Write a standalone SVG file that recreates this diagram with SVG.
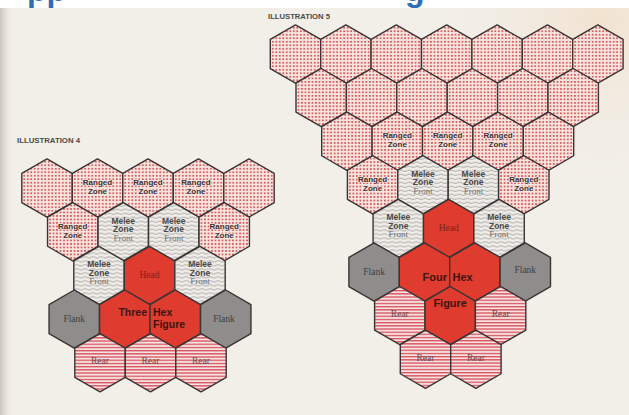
<svg xmlns="http://www.w3.org/2000/svg" xmlns:xlink="http://www.w3.org/1999/xlink" width="629" height="415" viewBox="0 0 629 415">
<style>
.hx{stroke:#3a3434;stroke-width:1.4;stroke-linejoin:round}
.dot{fill:url(#dots)}
.wav{fill:url(#wave)}
.str{fill:url(#stripes)}
.red{fill:#df3b2e}
.gry{fill:#8f8d8c}
text{font-family:"Liberation Sans",Arial,sans-serif;text-anchor:middle}
.rz{font-weight:bold;font-size:8px;fill:#3e2e2e;stroke:#f6e4df;stroke-width:1.3;paint-order:stroke;stroke-linejoin:round}
.mz{font-weight:bold;font-size:8.5px;fill:#4a4848}
.fr{font-family:"Liberation Serif","Times New Roman",serif;font-size:9px;fill:#707070}
.sf{font-family:"Liberation Serif","Times New Roman",serif;font-size:9.5px}
.hd{fill:#7b2418}
.fl{fill:#3e3e3e}
.rr{fill:#6a4a4a}
.big{font-weight:bold;fill:#3c1510}
.ttl{font-weight:bold;font-size:7.5px;fill:#4a4a4a;text-anchor:start}
.blue{font-weight:bold;font-size:32px;fill:#2f6db5;text-anchor:start}
</style>
<defs>
<polygon id="hex" points="0,-29.1 25.2,-14.55 25.2,14.55 0,29.1 -25.2,14.55 -25.2,-14.55"/>
<pattern id="dots" width="3.5" height="3.5" patternUnits="userSpaceOnUse">
<rect width="3.5" height="3.5" fill="#f6e4df"/>
<circle cx="1.75" cy="1.75" r="0.95" fill="#d63b3b"/>
</pattern>
<pattern id="wave" width="8" height="4" patternUnits="userSpaceOnUse">
<rect width="8" height="4" fill="#f0ede8"/>
<path d="M0 2 Q2 0.6 4 2 T8 2" fill="none" stroke="#8f8f8f" stroke-width="0.7"/>
</pattern>
<pattern id="stripes" width="6" height="3.2" patternUnits="userSpaceOnUse">
<rect width="6" height="3.2" fill="#f5e3e3"/>
<rect width="6" height="1.3" fill="#d9505a"/>
</pattern>
<linearGradient id="leftShade" x1="0" y1="0" x2="1" y2="0">
<stop offset="0" stop-color="#c9c5be"/>
<stop offset="1" stop-color="#f1eee7" stop-opacity="0"/>
</linearGradient>
<radialGradient id="warm" cx="600" cy="20" r="170" gradientUnits="userSpaceOnUse">
<stop offset="0" stop-color="#f2e2cf"/>
<stop offset="1" stop-color="#f1eee7" stop-opacity="0"/>
</radialGradient>
</defs>

<g id="background">
<rect width="629" height="415" fill="#ffffff"/>
<rect y="8" width="629" height="407" fill="#f2efe8"/>
<rect y="8" width="629" height="407" fill="url(#warm)"/>
<rect y="8" width="14" height="407" fill="url(#leftShade)"/>
<text class="blue" x="27" y="0.5">pp</text>
<text class="blue" x="405" y="0.5">g</text>
</g>

<g id="connectors"/>

<g id="illustration4">
<text class="ttl" x="17" y="143" textLength="63" lengthAdjust="spacingAndGlyphs">ILLUSTRATION 4</text>
<g id="i4-r0-0"><use href="#hex" class="hx dot" x="47" y="188"/></g>
<g id="i4-r0-1"><use href="#hex" class="hx dot" x="97.5" y="188"/><text class="rz" x="97.5" y="185">Ranged</text><text class="rz" x="97.5" y="194">Zone</text></g>
<g id="i4-r0-2"><use href="#hex" class="hx dot" x="148" y="188"/><text class="rz" x="148" y="185">Ranged</text><text class="rz" x="148" y="194">Zone</text></g>
<g id="i4-r0-3"><use href="#hex" class="hx dot" x="198.5" y="188"/><text class="rz" x="196" y="185">Ranged</text><text class="rz" x="196" y="194">Zone</text></g>
<g id="i4-r0-4"><use href="#hex" class="hx dot" x="249" y="188"/></g>

<g id="i4-r1-0"><use href="#hex" class="hx dot" x="72.75" y="231.7"/><text class="rz" x="72.75" y="228.7">Ranged</text><text class="rz" x="72.75" y="237.7">Zone</text></g>
<g id="i4-r1-1"><use href="#hex" class="hx wav" x="123.25" y="231.7"/><text class="mz" x="123.25" y="223.7">Melee</text><text class="mz" x="123.25" y="232.2">Zone</text><text class="fr" x="123.25" y="240.7">Front</text></g>
<g id="i4-r1-2"><use href="#hex" class="hx wav" x="173.75" y="231.7"/><text class="mz" x="173.75" y="223.7">Melee</text><text class="mz" x="173.75" y="232.2">Zone</text><text class="fr" x="173.75" y="240.7">Front</text></g>
<g id="i4-r1-3"><use href="#hex" class="hx dot" x="224.25" y="231.7"/><text class="rz" x="224.25" y="228.7">Ranged</text><text class="rz" x="224.25" y="237.7">Zone</text></g>

<g id="i4-r2-0"><use href="#hex" class="hx wav" x="99" y="275.4"/><text class="mz" x="99" y="267.4">Melee</text><text class="mz" x="99" y="275.9">Zone</text><text class="fr" x="99" y="284.4">Front</text></g>
<g id="i4-head"><use href="#hex" class="hx red" x="149.5" y="275.4"/><text class="sf hd" x="149.5" y="277.9">Head</text></g>
<g id="i4-r2-2"><use href="#hex" class="hx wav" x="200" y="275.4"/><text class="mz" x="200" y="267.4">Melee</text><text class="mz" x="200" y="275.9">Zone</text><text class="fr" x="200" y="284.4">Front</text></g>

<g id="i4-flank-l"><use href="#hex" class="hx gry" x="74.25" y="319.1"/><text class="sf fl" x="74.25" y="321.6">Flank</text></g>
<g id="i4-body-l"><use href="#hex" class="hx red" x="124.75" y="319.1"/><text class="big" x="147" y="316" font-size="10.5" style="text-anchor:end">Three</text></g>
<g id="i4-body-r"><use href="#hex" class="hx red" x="175.25" y="319.1"/><text class="big" x="153" y="316" font-size="10.5" style="text-anchor:start">Hex</text><text class="big" x="153" y="327.5" font-size="10.5" style="text-anchor:start">Figure</text></g>
<g id="i4-flank-r"><use href="#hex" class="hx gry" x="225.75" y="319.1"/><text class="sf fl" x="224" y="321.6">Flank</text></g>

<g id="i4-rear-0"><use href="#hex" class="hx str" x="100" y="362.8"/><text class="sf rr" x="100" y="364.3">Rear</text></g>
<g id="i4-rear-1"><use href="#hex" class="hx str" x="150.5" y="362.8"/><text class="sf rr" x="150.5" y="364.3">Rear</text></g>
<g id="i4-rear-2"><use href="#hex" class="hx str" x="201" y="362.8"/><text class="sf rr" x="201" y="364.3">Rear</text></g>
</g>

<g id="illustration5">
<text class="ttl" x="268" y="19" textLength="62" lengthAdjust="spacingAndGlyphs">ILLUSTRATION 5</text>
<g id="i5-r0-0"><use href="#hex" class="hx dot" x="295.5" y="54"/></g>
<g id="i5-r0-1"><use href="#hex" class="hx dot" x="345.9" y="54"/></g>
<g id="i5-r0-2"><use href="#hex" class="hx dot" x="396.3" y="54"/></g>
<g id="i5-r0-3"><use href="#hex" class="hx dot" x="446.7" y="54"/></g>
<g id="i5-r0-4"><use href="#hex" class="hx dot" x="497.1" y="54"/></g>
<g id="i5-r0-5"><use href="#hex" class="hx dot" x="547.5" y="54"/></g>
<g id="i5-r0-6"><use href="#hex" class="hx dot" x="597.9" y="54"/></g>

<g id="i5-r1-0"><use href="#hex" class="hx dot" x="321.2" y="97.6"/></g>
<g id="i5-r1-1"><use href="#hex" class="hx dot" x="371.6" y="97.6"/></g>
<g id="i5-r1-2"><use href="#hex" class="hx dot" x="422" y="97.6"/></g>
<g id="i5-r1-3"><use href="#hex" class="hx dot" x="472.4" y="97.6"/></g>
<g id="i5-r1-4"><use href="#hex" class="hx dot" x="522.8" y="97.6"/></g>
<g id="i5-r1-5"><use href="#hex" class="hx dot" x="573.2" y="97.6"/></g>

<g id="i5-r2-0"><use href="#hex" class="hx dot" x="346.9" y="141.2"/></g>
<g id="i5-r2-1"><use href="#hex" class="hx dot" x="397.3" y="141.2"/><text class="rz" x="397.3" y="138.2">Ranged</text><text class="rz" x="397.3" y="147.2">Zone</text></g>
<g id="i5-r2-2"><use href="#hex" class="hx dot" x="447.7" y="141.2"/><text class="rz" x="447.7" y="138.2">Ranged</text><text class="rz" x="447.7" y="147.2">Zone</text></g>
<g id="i5-r2-3"><use href="#hex" class="hx dot" x="498.1" y="141.2"/><text class="rz" x="498.1" y="138.2">Ranged</text><text class="rz" x="498.1" y="147.2">Zone</text></g>
<g id="i5-r2-4"><use href="#hex" class="hx dot" x="548.5" y="141.2"/></g>

<g id="i5-r3-0"><use href="#hex" class="hx dot" x="372.6" y="184.8"/><text class="rz" x="372.6" y="181.8">Ranged</text><text class="rz" x="372.6" y="190.8">Zone</text></g>
<g id="i5-r3-1"><use href="#hex" class="hx wav" x="423" y="184.8"/><text class="mz" x="423" y="176.8">Melee</text><text class="mz" x="423" y="185.3">Zone</text><text class="fr" x="423" y="193.8">Front</text></g>
<g id="i5-r3-2"><use href="#hex" class="hx wav" x="473.4" y="184.8"/><text class="mz" x="473.4" y="176.8">Melee</text><text class="mz" x="473.4" y="185.3">Zone</text><text class="fr" x="473.4" y="193.8">Front</text></g>
<g id="i5-r3-3"><use href="#hex" class="hx dot" x="523.8" y="184.8"/><text class="rz" x="523.8" y="181.8">Ranged</text><text class="rz" x="523.8" y="190.8">Zone</text></g>

<g id="i5-r4-0"><use href="#hex" class="hx wav" x="398.3" y="228.4"/><text class="mz" x="398.3" y="220.4">Melee</text><text class="mz" x="398.3" y="228.9">Zone</text><text class="fr" x="398.3" y="237.4">Front</text></g>
<g id="i5-head"><use href="#hex" class="hx red" x="448.7" y="228.4"/><text class="sf hd" x="448.7" y="230.9">Head</text></g>
<g id="i5-r4-2"><use href="#hex" class="hx wav" x="499.1" y="228.4"/><text class="mz" x="499.1" y="220.4">Melee</text><text class="mz" x="499.1" y="228.9">Zone</text><text class="fr" x="499.1" y="237.4">Front</text></g>

<g id="i5-flank-l"><use href="#hex" class="hx gry" x="374.1" y="272"/><text class="sf fl" x="374.1" y="274.5">Flank</text></g>
<g id="i5-body-l"><use href="#hex" class="hx red" x="424.5" y="272"/><text class="big" x="447" y="281" font-size="11" style="text-anchor:end">Four</text></g>
<g id="i5-body-r"><use href="#hex" class="hx red" x="474.9" y="272"/><text class="big" x="452.5" y="281" font-size="11" style="text-anchor:start">Hex</text></g>
<g id="i5-flank-r"><use href="#hex" class="hx gry" x="525.3" y="272"/><text class="sf fl" x="525.3" y="272.5">Flank</text></g>

<g id="i5-rear-0"><use href="#hex" class="hx str" x="399.8" y="315.6"/><text class="sf rr" x="399.8" y="316.6">Rear</text></g>
<g id="i5-body-b"><use href="#hex" class="hx red" x="450.2" y="315.6"/><text class="big" x="450.2" y="307" font-size="11">Figure</text></g>
<g id="i5-rear-1"><use href="#hex" class="hx str" x="500.6" y="315.6"/><text class="sf rr" x="500.6" y="316.6">Rear</text></g>

<g id="i5-rear-2"><use href="#hex" class="hx str" x="425.5" y="359.2"/><text class="sf rr" x="425.5" y="360.7">Rear</text></g>
<g id="i5-rear-3"><use href="#hex" class="hx str" x="475.9" y="359.2"/><text class="sf rr" x="475.9" y="360.7">Rear</text></g>
</g>
</svg>
